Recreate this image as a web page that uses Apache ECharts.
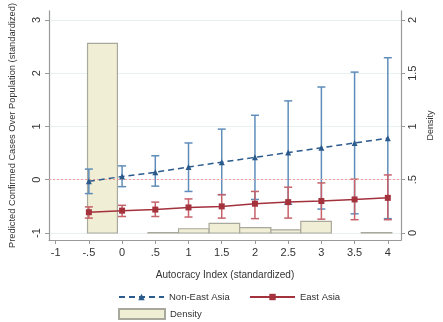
<!DOCTYPE html>
<html><head><meta charset="utf-8">
<script src="https://cdn.jsdelivr.net/npm/echarts@6/dist/echarts.min.js"></script>
<style>html,body{margin:0;padding:0;background:#fff}#c{width:443px;height:322px}</style>
</head><body><div id="c"></div>
<script>
const xValues = [-0.5, 0, 0.5, 1, 1.5, 2, 2.5, 3, 3.5, 4];
const nonEastAsia = [-0.03, 0.06, 0.14, 0.24, 0.33, 0.42, 0.51, 0.60, 0.69, 0.78];
const nonEastAsiaLow = [-0.26, -0.13, -0.12, -0.22, -0.28, -0.37, -0.46, -0.55, -0.64, -0.73];
const nonEastAsiaHigh = [0.20, 0.26, 0.45, 0.69, 0.95, 1.21, 1.48, 1.74, 2.02, 2.29];
const eastAsia = [-0.61, -0.58, -0.56, -0.52, -0.50, -0.45, -0.42, -0.40, -0.37, -0.34];
const eastAsiaLow = [-0.72, -0.69, -0.69, -0.70, -0.72, -0.73, -0.72, -0.74, -0.75, -0.75];
const eastAsiaHigh = [-0.51, -0.48, -0.42, -0.36, -0.28, -0.22, -0.14, -0.06, 0.01, 0.09];
const densityBinStart = [-0.52, 0.39, 0.85, 1.31, 1.77, 2.24, 2.69, 3.60];
const densityBinEnd = [-0.07, 0.85, 1.31, 1.77, 2.24, 2.69, 3.15, 4.06];
const densityValues = [1.78, 0.004, 0.04, 0.09, 0.05, 0.03, 0.11, 0.004];
const xTicks = [-1, -0.5, 0, 0.5, 1, 1.5, 2, 2.5, 3, 3.5, 4];
const yTicks = [-1, 0, 1, 2, 3];
const densityTicks = [0, 0.5, 1, 1.5, 2];

const FONT = '"Liberation Sans", Arial, sans-serif';
const BLUE = '#2b5b8c', BLUE_CI = '#5f8dbb';
const RED = '#a3323d', RED_CI = '#c7616a';
const AXIS = '#9a9a9a';
const stata = v => { let s = String(v); return s.replace(/^0\./, '.').replace(/^-0\./, '-.'); };

function errData(lo, hi) { return xValues.map((x, i) => [x, lo[i], hi[i]]); }
function errRender(color) {
  return function (params, api) {
    const x = api.value(0), lo = api.value(1), hi = api.value(2);
    const a = api.coord([x, lo]), b = api.coord([x, hi]);
    const w = 4;
    const st = { stroke: color, lineWidth: 1.5 };
    return { type: 'group', children: [
      { type: 'line', shape: { x1: a[0], y1: a[1], x2: b[0], y2: b[1] }, style: st },
      { type: 'line', shape: { x1: a[0] - w, y1: a[1], x2: a[0] + w, y2: a[1] }, style: st },
      { type: 'line', shape: { x1: b[0] - w, y1: b[1], x2: b[0] + w, y2: b[1] }, style: st }
    ]};
  };
}

const chart = echarts.init(document.getElementById('c'), null, { renderer: 'canvas' });
const option = {
  animation: false,
  textStyle: { fontFamily: FONT },
  grid: { left: 45, right: 26, top: 10, bottom: 82, containLabel: false },
  xAxis: {
    type: 'value', min: -1.1, max: 4.2,
    name: 'Autocracy Index (standardized)', nameLocation: 'middle', nameGap: 30,
    nameTextStyle: { fontSize: 10, color: '#333' },
    axisLine: { show: true, onZero: false, lineStyle: { color: AXIS, width: 1.2 } },
    axisTick: { show: true, length: 4, lineStyle: { color: AXIS }, customValues: xTicks },
    axisLabel: { customValues: xTicks, formatter: stata, fontSize: 11, color: '#333', margin: 7 },
    splitLine: { show: false }
  },
  yAxis: [{
    type: 'value', min: -1.131, max: 3.168, position: 'left',
    name: 'Predicted Confirmed Cases Over Population (standardized)', nameLocation: 'middle',
    nameRotate: 90, nameGap: 32, nameTextStyle: { fontSize: 9.3, color: '#333' },
    axisLine: { show: true, onZero: false, lineStyle: { color: AXIS, width: 1.2 } },
    axisTick: { show: true, length: 4, lineStyle: { color: AXIS }, customValues: yTicks },
    axisLabel: { customValues: yTicks, rotate: 90, fontSize: 11, color: '#333', margin: 7 },
    splitLine: { show: true, lineStyle: { color: '#e8f0f1', width: 1 } }
  }, {
    type: 'value', min: -0.0655, max: 2.084, position: 'right',
    name: 'Density', nameLocation: 'middle', nameRotate: 90, nameGap: 17,
    nameTextStyle: { fontSize: 9, color: '#333' },
    axisLine: { show: true, onZero: false, lineStyle: { color: AXIS, width: 1.2 } },
    axisTick: { show: true, length: 4, lineStyle: { color: AXIS }, customValues: densityTicks },
    axisLabel: { customValues: densityTicks, formatter: stata, rotate: 90, fontSize: 11, color: '#333', margin: 6 },
    splitLine: { show: false }
  }],
  legend: [{
    left: 118, top: 292, padding: 0, itemWidth: 45, itemHeight: 8, data: ['Non-East Asia'],
    textStyle: { fontSize: 9.5, color: '#333' }
  }, {
    left: 249, top: 292, padding: 0, itemWidth: 45, itemHeight: 8, data: ['East Asia'],
    textStyle: { fontSize: 9.5, color: '#333' }
  }, {
    left: 118, top: 308, padding: 0, itemWidth: 46, itemHeight: 10, data: [{ name: 'Density', icon: 'rect' }],
    textStyle: { fontSize: 9.5, color: '#333' }
  }],
  series: [{
    name: 'Density', type: 'custom', yAxisIndex: 1, z: 1,
    data: densityBinStart.map((s, i) => [s, densityBinEnd[i], densityValues[i]]),
    encode: { x: [0, 1], y: 2 },
    itemStyle: { color: '#f1eed6', borderColor: '#a9a89c', borderWidth: 1.2 },
    renderItem: function (params, api) {
      const p0 = api.coord([api.value(0), 0]);
      const p1 = api.coord([api.value(1), api.value(2)]);
      return { type: 'rect', shape: { x: p0[0], y: p1[1], width: p1[0] - p0[0], height: p0[1] - p1[1] },
        style: { fill: '#f1eed6', stroke: '#a9a89c', lineWidth: 1.2 } };
    }
  }, {
    name: 'Zero reference', type: 'line', z: 2, silent: true,
    data: [], symbol: 'none',
    markLine: {
      silent: true, symbol: 'none', label: { show: false },
      lineStyle: { color: '#f09a9a', type: [2, 2], width: 1, opacity: 1 },
      emphasis: { disabled: true },
      data: [{ yAxis: 0 }]
    }
  }, {
    name: 'Non-East Asia CI', type: 'custom', z: 3,
    data: errData(nonEastAsiaLow, nonEastAsiaHigh), encode: { x: 0, y: [1, 2] },
    renderItem: errRender(BLUE_CI)
  }, {
    name: 'East Asia CI', type: 'custom', z: 3,
    data: errData(eastAsiaLow, eastAsiaHigh), encode: { x: 0, y: [1, 2] },
    renderItem: errRender(RED_CI)
  }, {
    name: 'Non-East Asia', type: 'line', z: 5,
    data: xValues.map((x, i) => [x, nonEastAsia[i]]),
    symbol: 'triangle', symbolSize: 6,
    itemStyle: { color: BLUE },
    lineStyle: { color: BLUE, width: 1.5, type: [6, 4] }
  }, {
    name: 'East Asia', type: 'line', z: 5,
    data: xValues.map((x, i) => [x, eastAsia[i]]),
    symbol: 'rect', symbolSize: 6,
    itemStyle: { color: RED },
    lineStyle: { color: RED, width: 1.5 }
  }]
};
chart.setOption(option);
</script>
</body></html>
